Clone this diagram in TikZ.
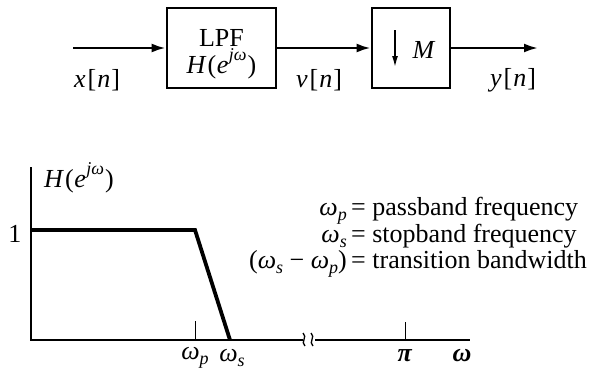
\documentclass[tikz,border=0pt]{standalone}
\usepackage{fontspec}
\setmainfont{Liberation Serif}
\usetikzlibrary{arrows.meta}
\newcommand\vi[1]{\textit{#1}}
\newcommand\sbx[1]{\raisebox{-0.2em}{\fontsize{18}{18}\selectfont\textit{#1}}}
\newcommand\spx[1]{\raisebox{0.5em}{\fontsize{18}{18}\selectfont\textit{#1}\/}}
\newcommand\Hjw{\vi{H}\kern1pt(\kern0.5pt\vi{e}\kern0.5pt\spx{jω}\kern1pt)}
\newcommand\sq[1]{\vi{#1}\kern2pt[\kern1pt\vi{n}\kern1pt]}
\begin{document}
\begin{tikzpicture}[x=1pt,y=-1pt,
  every node/.style={font=\fontsize{26}{28}\selectfont,inner sep=0.5pt},
  blk/.style={draw,line width=2.8pt,minimum height=80pt,inner sep=0pt},
  sig/.style={line width=2.4pt,-{Latex[length=14pt,width=9pt]}},
  ax/.style={line width=1.8pt},
  tk/.style={line width=1pt},
  resp/.style={line width=3.8pt,line join=miter}]
\path[use as bounding box] (0,0) rectangle (597,372);
% block diagram
\coordinate (in) at (73,48);
\node[blk,minimum width=109pt] (lpf) at (221.5,48) {};
\node (lpft) at (221.5,38) {LPF};
\node (lpfh) at (221.5,64) {\Hjw};
\node[blk,minimum width=78pt] (dec) at (411,48) {};
\coordinate (out) at (538,48);
\draw[sig] (in) -- (lpf);
\draw[sig] (lpf) -- (dec);
\draw[sig] (dec) -- (out);
\coordinate (da) at (395,30);
\coordinate (db) at (395,67);
\draw[line width=1.4pt,-{Latex[length=11pt,width=6pt]}] (da) -- (db);
\node (M) at (424,50) {\vi{M}};
\node (xn) at (97,80) {\sq{x}};
\node (vn) at (319,80) {\sq{v}};
\node (yn) at (513,80) {\sq{y}};
% frequency response
\coordinate (O) at (31,340);
\coordinate (ytop) at (31,167);
\coordinate (b1) at (303,340);
\coordinate (b2) at (315,340);
\coordinate (xend) at (470,340);
\draw[ax] (ytop) -- (O) -- (b1);
\draw[ax] (b2) -- (xend);
\draw[line width=1.3pt] (303,333) .. controls (308,337) and (300,342) .. (305,346);
\draw[line width=1.3pt] (311,333) .. controls (316,337) and (308,342) .. (313,346);
\coordinate (p0) at (31,230);
\coordinate (p1) at (195,230);
\coordinate (p2) at (230,340);
\draw[resp] (p0) -- (p1) -- (p2);
\coordinate (wpt) at (195,321);
\coordinate (wpb) at (195,340);
\draw[tk] (wpt) -- (wpb);
\coordinate (pit) at (405,322);
\coordinate (pib) at (405,340);
\draw[tk] (pit) -- (pib);
\node (one) at (15,234) {1};
\node (H) at (79,178) {\Hjw};
\node (wp) at (195,358) {\vi{ω}\sbx{p}};
\node (ws) at (232,358) {\vi{ω}\sbx{s}};
\node (pi) at (405,356) {\textbf{\vi{π}}};
\node (w) at (462,356) {\textbf{\vi{ω}}};
% legend
\node[anchor=base east,inner sep=0pt] (l1) at (347,215) {\vi{ω}\sbx{p}};
\node[anchor=base west,inner sep=0pt] (r1) at (351,215) {= passband frequency};
\node[anchor=base east,inner sep=0pt] (l2) at (347,242) {\vi{ω}\sbx{s}};
\node[anchor=base west,inner sep=0pt] (r2) at (351,242) {= stopband frequency};
\node[anchor=base east,inner sep=0pt] (l3) at (347,268) {(\vi{ω}\sbx{s} − \vi{ω}\sbx{p})};
\node[anchor=base west,inner sep=0pt] (r3) at (351,268) {= transition bandwidth};
\end{tikzpicture}
\end{document}
